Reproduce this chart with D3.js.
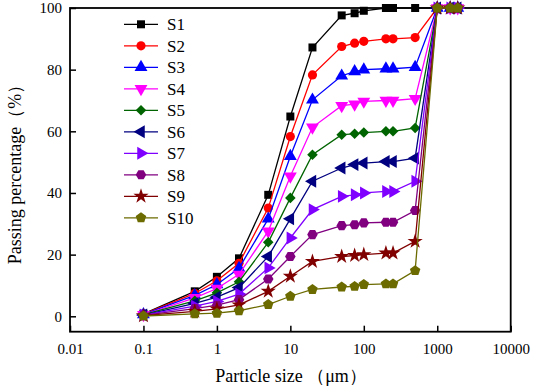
<!DOCTYPE html>
<html><head><meta charset="utf-8">
<script src="https://cdn.jsdelivr.net/npm/d3@7"></script>
<style>body{margin:0;background:#fff}svg{display:block}</style>
</head><body>
<svg id="c" width="533" height="390"></svg>
<script>
const sizes = [0.1, 0.5, 1, 2, 5, 10, 20, 50, 75, 100, 200, 250, 500, 1000, 1500, 1900];
const seriesNames = ["S1","S2","S3","S4","S5","S6","S7","S8","S9","S10"];
const S1  = [0.8, 8.1, 12.8, 18.8, 39.4, 64.8, 87.2, 97.6, 98.3, 99.1, 100, 100, 100, 100, 100, 100];
const S2  = [0.7, 7.4, 11.5, 17.2, 35.1, 58.3, 78.3, 87.5, 88.6, 89.2, 90.0, 90.0, 90.4, 100, 100, 100];
const S3  = [0.6, 6.8, 10.3, 15.6, 31.6, 51.9, 70.2, 78.0, 79.4, 80.0, 80.3, 80.3, 80.8, 100, 100, 100];
const S4  = [0.5, 6.0, 9.0, 13.6, 27.6, 45.4, 61.3, 68.3, 68.8, 69.7, 70.0, 70.0, 70.6, 100, 100, 100];
const S5  = [0.5, 5.0, 7.6, 11.2, 24.0, 38.4, 52.4, 58.9, 59.2, 59.6, 60.0, 60.0, 61.1, 100, 100, 100];
const S6  = [0.4, 4.2, 6.2, 9.3, 19.4, 31.6, 43.8, 48.1, 49.2, 49.7, 50.2, 50.2, 51.3, 100, 100, 100];
const S7  = [0.4, 3.3, 4.8, 7.2, 15.7, 25.4, 34.6, 38.9, 39.4, 40.0, 40.5, 40.5, 43.8, 100, 100, 100];
const S8  = [0.3, 2.5, 3.6, 5.4, 12.1, 19.4, 26.5, 29.4, 29.7, 30.3, 30.5, 30.5, 34.3, 100, 100, 100];
const S9  = [0.2, 1.6, 2.4, 3.7, 8.1, 13.0, 17.8, 19.4, 19.7, 20.0, 20.5, 20.5, 24.3, 100, 100, 100];
const S10 = [0.1, 0.8, 1.0, 1.8, 3.8, 6.5, 8.7, 9.5, 9.7, 10.3, 10.5, 10.5, 14.8, 100, 100, 100];
const seriesValues = [S1,S2,S3,S4,S5,S6,S7,S8,S9,S10];
const xTicks = [0.01, 0.1, 1, 10, 100, 1000, 10000];
const xTickLabels = ["0.01","0.1","1","10","100","1000","10000"];
const yTicks = [0, 20, 40, 60, 80, 100];

const colors = ["#000000","#ff0000","#0000ff","#ff00ff","#006400","#000080","#8000ff","#800080","#800000","#6b6b00"];

const svg = d3.select("#c");
const L = 70, R = 510.7, T = 8, B = 331.7;
const x = d3.scaleLog().domain([0.01, 10000]).range([L, R]);
const y = d3.scaleLinear().domain([-5, 100]).range([B, T]);
const font = "'Liberation Serif','Times New Roman',serif";

// custom polygon symbol generator
function poly(n, rot){
  return {draw(ctx, size){
    const r = Math.sqrt(size / (n * 0.5 * Math.sin(2*Math.PI/n)));
    for(let i=0;i<n;i++){
      const a = rot + i*2*Math.PI/n;
      const px = r*Math.sin(a), py = -r*Math.cos(a);
      if(i===0) ctx.moveTo(px,py); else ctx.lineTo(px,py);
    }
    ctx.closePath();
  }};
}
const tri = d3.symbolTriangle;
const markers = [
  {t:d3.symbolSquare, s:64, r:0},
  {t:d3.symbolCircle, s:66, r:0},
  {t:tri, s:72, r:0},
  {t:tri, s:72, r:180},
  {t:d3.symbolSquare, s:56, r:45},
  {t:tri, s:72, r:-90},
  {t:tri, s:72, r:90},
  {t:poly(6, Math.PI/6), s:72, r:0},
  {t:d3.symbolStar, s:72, r:0},
  {t:poly(5, 0), s:72, r:0}
];

// axes
const xAxis = d3.axisBottom(x).tickValues(xTicks).tickFormat((d,i)=>xTickLabels[i]).tickSizeInner(-6).tickSizeOuter(0).tickPadding(9);
const yAxis = d3.axisLeft(y).tickValues(yTicks).tickSizeInner(-6).tickSizeOuter(0).tickPadding(8);
const gx = svg.append("g").attr("transform",`translate(0,${B})`).call(xAxis);
const gy = svg.append("g").attr("transform",`translate(${L},0)`).call(yAxis);
[gx,gy].forEach(g=>{
  g.select(".domain").remove();
  g.selectAll(".tick line").attr("stroke","#000").attr("stroke-width",1.5);
  g.selectAll(".tick text").attr("font-family",font).attr("font-size",15).attr("fill","#000");
});
gx.selectAll(".tick text").attr("dy","0.9em");
// frame
svg.append("rect").attr("x",L).attr("y",T).attr("width",R-L).attr("height",B-T)
  .attr("fill","none").attr("stroke","#000").attr("stroke-width",1.8);

// series
const line = d3.line().x((d,i)=>x(sizes[i])).y(d=>y(d));
seriesValues.forEach((vals,k)=>{
  const g = svg.append("g");
  g.append("path").attr("d",line(vals)).attr("fill","none").attr("stroke",colors[k]).attr("stroke-width",1.3);
  const m = markers[k];
  const sym = d3.symbol().type(m.t).size(m.s);
  g.selectAll("path.m").data(vals).enter().append("path").attr("class","m")
    .attr("d",sym)
    .attr("transform",(d,i)=>`translate(${x(sizes[i])},${y(d)}) rotate(${m.r})`)
    .attr("fill",colors[k]);
});

// legend
const lg = svg.append("g");
seriesNames.forEach((n,k)=>{
  const yy = 24.3 + k*21.5;
  lg.append("line").attr("x1",124).attr("x2",158).attr("y1",yy).attr("y2",yy).attr("stroke",colors[k]).attr("stroke-width",1.3);
  const m = markers[k];
  lg.append("path").attr("d",d3.symbol().type(m.t).size(m.s)).attr("transform",`translate(141,${yy}) rotate(${m.r})`).attr("fill",colors[k]);
  lg.append("text").attr("x",167).attr("y",yy).attr("dy","0.35em").attr("font-family",font).attr("font-size",17).attr("fill","#000").text(n);
});

// axis titles
svg.append("text").attr("x",291).attr("y",382).attr("text-anchor","middle")
  .attr("font-family",font).attr("font-size",18).attr("fill","#000").text("Particle size （μm）");
svg.append("text").attr("transform","translate(21,170) rotate(-90)").attr("text-anchor","middle")
  .attr("font-family",font).attr("font-size",18).attr("fill","#000").text("Passing percentage（%）");
</script>
</body></html>
